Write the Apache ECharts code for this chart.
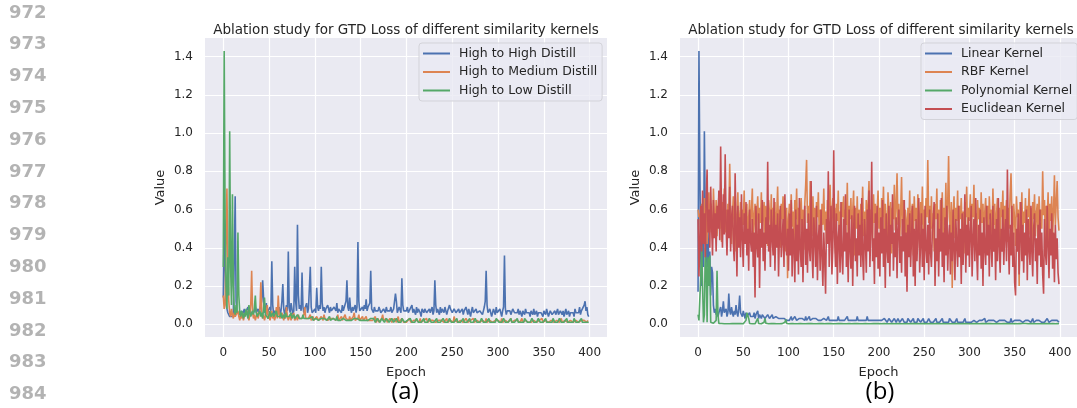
<!DOCTYPE html>
<html><head><meta charset="utf-8">
<script src="https://cdn.jsdelivr.net/npm/echarts@6/dist/echarts.min.js"></script>
<style>html,body{margin:0;padding:0;background:#fff}#c{width:1077px;height:408px}</style>
</head><body><div id="c"></div>
<script>
const TITLE = 'Ablation study for GTD Loss of different similarity kernels';
const xTicks = [0,50,100,150,200,250,300,350,400];
const yTicks = [0,0.2,0.4,0.6,0.8,1.0,1.2,1.4];
const lineNumbers = ['972','973','974','975','976','977','978','979','980','981','982','983','984'];
const captions = ['(a)','(b)'];
const leftNames = ['High to High Distill','High to Medium Distill','High to Low Distill'];
const rightNames = ['Linear Kernel','RBF Kernel','Polynomial Kernel','Euclidean Kernel'];

const highHigh = [
.14,.55,.30,.12,.08,.06,.05,.04,.05,.04,.04,.06,.35,.67,.12,.06,.05,.07,.05,.06,
.07,.05,.06,.08,.05,.07,.06,.09,.05,.07,.06,.08,.05,.06,.07,.09,.06,.05,.08,.06,
.07,.05,.12,.23,.14,.06,.08,.11,.05,.07,.06,.09,.07,.33,.10,.05,.07,.06,.08,.05,
.06,.09,.05,.07,.12,.21,.08,.05,.06,.10,.07,.38,.09,.06,.11,.08,.05,.07,.30,.12,
.07,.52,.15,.08,.10,.07,.27,.09,.06,.08,.07,.11,.06,.08,.07,.30,.09,.06,.07,.05,
.08,.06,.19,.09,.07,.10,.08,.30,.11,.07,.09,.06,.08,.07,.10,.08,.06,.09,.07,.08,
.06,.09,.08,.07,.11,.06,.08,.07,.09,.06,.10,.07,.08,.06,.12,.23,.09,.07,.14,.08,
.06,.09,.07,.08,.10,.06,.09,.43,.12,.07,.08,.06,.09,.07,.10,.08,.13,.07,.09,.08,
.11,.28,.08,.07,.06,.09,.07,.08,.06,.07,.09,.08,.06,.07,.05,.08,.07,.06,.09,.07,
.08,.06,.07,.09,.06,.05,.08,.07,.16,.12,.06,.07,.09,.08,.06,.24,.10,.07,.08,.06,
.07,.09,.06,.05,.08,.07,.10,.06,.08,.07,.05,.09,.06,.08,.07,.06,.04,.08,.07,.06,
.08,.09,.06,.07,.05,.08,.06,.07,.09,.05,.07,.23,.10,.06,.08,.07,.05,.09,.06,.08,
.07,.06,.09,.08,.05,.07,.06,.10,.08,.07,.06,.05,.08,.09,.06,.07,.05,.08,.06,.07,
.06,.08,.05,.07,.06,.09,.07,.05,.08,.06,.04,.07,.09,.06,.07,.05,.08,.06,.07,.05,
.07,.06,.08,.05,.07,.09,.12,.28,.10,.06,.05,.08,.07,.04,.06,.08,.07,.05,.09,.06,
.07,.05,.08,.06,.04,.07,.09,.36,.08,.05,.07,.06,.08,.07,.05,.06,.08,.07,.06,.05,
.07,.06,.08,.05,.07,.06,.04,.07,.06,.05,.08,.06,.07,.05,.06,.04,.07,.06,.05,.08,
.05,.06,.07,.04,.06,.05,.07,.06,.05,.04,.07,.06,.05,.08,.06,.04,.05,.07,.06,.05,
.06,.04,.07,.05,.06,.08,.05,.04,.07,.06,.05,.07,.04,.06,.08,.05,.06,.07,.04,.06,
.05,.07,.06,.04,.08,.06,.05,.07,.06,.09,.05,.07,.06,.08,.10,.12,.07,.09,.05,.04
];
const highMedium = [
.15,.08,.10,.45,.71,.30,.12,.06,.04,.08,.05,.03,.06,.04,.05,.03,.07,.04,.02,.05,
.03,.06,.02,.04,.05,.03,.07,.04,.02,.05,.10,.28,.06,.03,.05,.02,.04,.06,.03,.05,
.08,.22,.07,.03,.05,.02,.04,.06,.10,.03,.05,.02,.04,.07,.03,.05,.02,.04,.09,.03,
.15,.05,.03,.02,.06,.04,.02,.05,.03,.09,.04,.02,.03,.05,.02,.04,.03,.06,.02,.03,
.04,.02,.05,.03,.02,.04,.03,.02,.05,.09,.03,.02,.04,.03,.02,.05,.02,.03,.04,.02,
.03,.02,.04,.05,.02,.03,.02,.04,.03,.02,.05,.03,.02,.04,.02,.03,.02,.03,.04,.02,
.03,.02,.04,.02,.03,.05,.02,.03,.02,.04,.02,.03,.02,.05,.03,.02,.03,.02,.04,.02,
.03,.02,.04,.06,.02,.03,.02,.03,.05,.02,.03,.02,.04,.02,.03,.02,.04,.02,.03,.02,
.02,.01,.03,.02,.01,.02,.04,.01,.02,.03,.01,.02,.01,.03,.05,.02,.01,.02,.03,.01,
.02,.01,.03,.02,.01,.02,.01,.03,.02,.01,.02,.04,.01,.02,.01,.03,.02,.01,.02,.01,
.01,.02,.01,.03,.02,.01,.02,.01,.02,.03,.01,.02,.01,.02,.01,.03,.01,.02,.01,.02,
.01,.02,.03,.01,.02,.01,.02,.01,.03,.02,.01,.02,.01,.02,.01,.02,.03,.01,.02,.01,
.02,.01,.02,.01,.03,.01,.02,.01,.02,.01,.02,.01,.04,.02,.01,.02,.01,.02,.01,.02,
.01,.02,.01,.02,.01,.03,.02,.01,.02,.01,.02,.01,.02,.03,.01,.02,.01,.02,.01,.02,
.01,.02,.01,.02,.01,.02,.01,.03,.01,.02,.01,.02,.01,.02,.01,.02,.01,.02,.01,.02,
.02,.01,.02,.01,.03,.01,.02,.01,.02,.01,.02,.01,.02,.01,.03,.01,.02,.01,.02,.01,
.01,.02,.01,.02,.01,.02,.03,.01,.02,.01,.02,.01,.02,.01,.02,.01,.01,.02,.01,.02,
.01,.02,.01,.02,.01,.02,.01,.02,.03,.01,.02,.01,.02,.01,.02,.01,.02,.01,.02,.01,
.02,.01,.02,.01,.02,.01,.02,.01,.02,.03,.01,.02,.01,.02,.01,.02,.01,.02,.01,.02,
.01,.02,.01,.02,.01,.02,.01,.02,.01,.02,.01,.02,.03,.01,.02,.01,.02,.01,.02,.01
];
const highLow = [
.30,1.43,.55,.20,.08,.35,.15,1.01,.30,.10,.68,.20,.08,.05,.10,.06,.48,.15,.06,.04,
.07,.05,.03,.06,.04,.08,.05,.03,.10,.06,.04,.03,.07,.05,.09,.15,.06,.04,.03,.05,
.07,.04,.06,.03,.08,.14,.05,.04,.06,.03,.05,.07,.04,.03,.06,.04,.05,.03,.07,.04,
.03,.05,.04,.06,.03,.04,.05,.03,.06,.04,.03,.05,.04,.03,.06,.03,.04,.05,.03,.04,
.03,.05,.04,.03,.02,.04,.03,.05,.03,.02,.04,.03,.02,.04,.03,.02,.03,.04,.02,.03,
.02,.03,.02,.04,.02,.03,.02,.03,.02,.04,.03,.02,.03,.02,.03,.02,.04,.02,.03,.02,
.03,.02,.03,.02,.04,.02,.03,.02,.02,.03,.02,.03,.02,.03,.02,.02,.03,.02,.03,.02,
.02,.03,.02,.03,.02,.02,.03,.02,.03,.02,.02,.03,.02,.02,.03,.02,.02,.03,.02,.02,
.02,.03,.02,.02,.03,.02,.01,.02,.03,.02,.02,.01,.02,.03,.02,.02,.01,.02,.03,.02,
.02,.01,.02,.02,.03,.02,.01,.02,.02,.03,.02,.01,.02,.02,.01,.03,.02,.02,.01,.02,
.02,.02,.01,.02,.03,.02,.01,.02,.02,.01,.02,.03,.02,.01,.02,.02,.01,.02,.02,.03,
.01,.02,.02,.01,.02,.03,.02,.01,.02,.02,.01,.02,.02,.03,.01,.02,.02,.01,.02,.02,
.03,.02,.01,.02,.02,.01,.02,.03,.02,.01,.02,.02,.01,.02,.02,.03,.01,.02,.02,.01,
.02,.02,.03,.01,.02,.02,.01,.02,.02,.03,.01,.02,.02,.01,.02,.03,.02,.01,.02,.02,
.01,.02,.03,.02,.01,.02,.02,.01,.02,.02,.03,.01,.02,.02,.01,.02,.02,.01,.03,.02,
.02,.01,.02,.02,.01,.02,.03,.02,.01,.02,.02,.01,.02,.02,.03,.01,.02,.02,.01,.02,
.02,.03,.01,.02,.02,.01,.02,.02,.01,.03,.02,.02,.01,.02,.02,.01,.02,.03,.02,.01,
.02,.02,.01,.02,.03,.02,.01,.02,.02,.01,.02,.02,.03,.01,.02,.02,.01,.02,.02,.01,
.03,.02,.01,.02,.02,.01,.02,.03,.02,.01,.02,.02,.01,.02,.02,.03,.01,.02,.02,.01,
.02,.02,.01,.03,.02,.01,.02,.02,.01,.02,.02,.03,.01,.02,.02,.01,.02,.02,.01,.01
];
const linearK = [
.17,1.43,.80,.35,.20,.45,.30,1.01,.55,.40,.30,.50,.25,.38,.15,.30,.27,.10,.06,.08,
.05,.07,.04,.06,.05,.09,.04,.07,.12,.06,.05,.08,.04,.06,.16,.07,.05,.09,.06,.04,
.07,.05,.10,.06,.04,.08,.15,.06,.05,.04,.07,.05,.03,.06,.04,.05,.03,.06,.04,.05,
.03,.04,.06,.03,.05,.04,.07,.03,.05,.04,.03,.05,.04,.06,.03,.04,.03,.05,.04,.03,
.04,.03,.05,.03,.04,.02,.04,.03,.05,.03,.02,.04,.03,.04,.02,.03,.04,.03,.02,.03,
.03,.02,.03,.04,.02,.03,.02,.04,.03,.02,.03,.02,.03,.04,.02,.03,.02,.03,.02,.04,
.02,.03,.02,.04,.02,.03,.02,.03,.02,.02,.03,.02,.04,.02,.03,.02,.02,.03,.02,.03,
.02,.03,.02,.02,.04,.02,.03,.02,.02,.03,.02,.02,.03,.02,.02,.04,.02,.03,.02,.02,
.03,.02,.02,.03,.02,.04,.02,.02,.03,.02,.02,.03,.02,.02,.03,.02,.04,.02,.02,.03,
.02,.02,.03,.02,.02,.03,.02,.04,.02,.02,.03,.02,.02,.03,.02,.02,.03,.02,.02,.03,
.02,.02,.03,.02,.01,.02,.03,.02,.02,.01,.02,.03,.02,.02,.01,.02,.02,.03,.02,.01,
.02,.03,.02,.01,.02,.02,.03,.02,.01,.02,.02,.01,.03,.02,.02,.01,.02,.02,.03,.01,
.02,.02,.01,.03,.02,.02,.01,.02,.02,.03,.01,.02,.02,.01,.02,.03,.02,.01,.02,.02,
.01,.02,.02,.03,.01,.02,.02,.01,.02,.02,.03,.01,.02,.02,.01,.02,.02,.01,.03,.02,
.02,.01,.02,.02,.01,.02,.03,.01,.02,.02,.01,.02,.02,.01,.02,.03,.01,.02,.02,.01,
.02,.02,.01,.02,.01,.02,.02,.03,.01,.02,.01,.02,.02,.01,.02,.01,.02,.03,.01,.02,
.01,.02,.02,.01,.02,.01,.02,.02,.01,.03,.01,.02,.01,.02,.02,.01,.02,.01,.02,.02,
.01,.02,.01,.02,.02,.01,.03,.01,.02,.01,.02,.02,.01,.02,.01,.02,.02,.01,.03,.01,
.02,.01,.02,.01,.02,.02,.01,.02,.01,.02,.03,.01,.02,.01,.02,.02,.01,.02,.01,.02,
.01,.02,.02,.01,.02,.01,.03,.02,.01,.02,.01,.02,.02,.01,.02,.01,.02,.02,.01,.01
];
const rbfK = [
.60,.56,.58,.47,.63,.55,.49,.66,.52,.61,.42,.58,.69,.48,.63,.54,.45,.71,.57,.50,
.65,.46,.58,.67,.50,.61,.43,.64,.55,.71,.48,.60,.45,.63,.56,.84,.60,.42,.57,.67,
.50,.62,.38,.58,.69,.47,.55,.64,.44,.60,.52,.70,.43,.58,.63,.37,.56,.65,.48,.59,
.71,.45,.56,.63,.40,.58,.67,.48,.61,.53,.69,.44,.57,.64,.47,.62,.55,.41,.65,.58,
.50,.68,.45,.61,.54,.64,.42,.58,.72,.49,.60,.40,.63,.55,.67,.46,.57,.38,.61,.24,
.55,.63,.44,.68,.51,.59,.40,.65,.55,.71,.47,.61,.43,.58,.66,.49,.60,.39,.63,.73,
.86,.53,.62,.45,.75,.57,.46,.67,.51,.61,.41,.64,.56,.69,.47,.60,.38,.63,.52,.71,
.49,.59,.42,.65,.55,.62,.73,.45,.58,.66,.50,.61,.37,.63,.54,.70,.46,.59,.40,.64,
.56,.67,.43,.60,.52,.74,.41,.62,.55,.66,.45,.59,.70,.36,.61,.50,.67,.47,.60,.42,
.63,.54,.72,.46,.59,.39,.65,.55,.62,.75,.48,.60,.61,.44,.68,.53,.63,.40,.58,.70,
.50,.61,.38,.66,.56,.72,.45,.63,.54,.41,.69,.58,.48,.64,.37,.61,.55,.73,.49,.62,
.79,.52,.63,.44,.59,.77,.47,.65,.40,.60,.55,.26,.61,.51,.70,.43,.58,.63,.36,.67,
.54,.61,.45,.68,.57,.39,.64,.52,.72,.48,.60,.42,.66,.56,.86,.53,.62,.44,.67,.50,
.58,.38,.63,.55,.71,.46,.60,.40,.65,.54,.69,.45,.61,.52,.74,.42,.63,.88,.56,.47,
.64,.19,.58,.67,.45,.61,.54,.70,.41,.62,.55,.66,.48,.59,.37,.64,.56,.72,.46,.61,
.54,.68,.43,.63,.56,.73,.47,.58,.39,.65,.55,.61,.45,.69,.53,.63,.40,.59,.66,.49,
.62,.42,.67,.55,.60,.46,.71,.52,.63,.38,.58,.66,.47,.61,.36,.64,.56,.70,.44,.62,
.55,.65,.43,.61,.50,.68,.79,.57,.46,.63,.54,.41,.67,.56,.60,.20,.64,.52,.69,.45,
.59,.53,.66,.42,.62,.56,.71,.47,.61,.38,.64,.55,.68,.46,.58,.63,.41,.67,.54,.60,
.50,.80,.57,.65,.44,.62,.55,.69,.40,.63,.54,.67,.46,.59,.78,.52,.63,.75,.56,.49
];
const polyK = [
.05,.02,.01,.25,.41,.20,.01,.05,.40,.30,.01,.35,.20,.36,.01,.005,.02,.005,.01,.01,
.02,.28,.05,.004,.003,.002,.004,.002,.003,.002,.004,.003,.002,.003,.005,.002,.003,.002,.004,.003,
.002,.003,.004,.002,.003,.002,.003,.004,.002,.003,.002,.004,.003,.02,.06,.05,.03,.004,.002,.003,
.002,.004,.003,.002,.003,.01,.03,.004,.002,.003,.002,.003,.004,.01,.03,.005,.002,.003,.002,.003,
.002,.003,.002,.004,.003,.002,.003,.002,.003,.004,.002,.003,.002,.003,.002,.003,.01,.025,.004,.002,
.003,.002,.004,.002,.003,.002,.003,.002,.004,.003,.002,.003,.002,.004,.002,.003,.002,.003,.01,.002,
.003,.002,.003,.004,.002,.003,.002,.003,.002,.004,.003,.002,.003,.002,.003,.002,.004,.003,.002,.003,
.002,.003,.002,.003,.004,.002,.003,.002,.003,.002,.003,.004,.002,.003,.002,.003,.002,.003,.004,.002,
.003,.002,.004,.003,.002,.003,.002,.003,.002,.004,.002,.003,.002,.003,.004,.002,.003,.002,.003,.002,
.002,.003,.002,.004,.002,.003,.002,.003,.002,.003,.004,.002,.003,.002,.003,.002,.004,.003,.002,.003,
.003,.002,.003,.002,.004,.002,.003,.002,.003,.002,.003,.004,.002,.003,.002,.003,.002,.003,.002,.004,
.002,.003,.002,.003,.002,.004,.003,.002,.003,.002,.003,.002,.004,.002,.003,.002,.003,.004,.002,.003,
.003,.002,.004,.002,.003,.002,.003,.002,.003,.004,.002,.003,.002,.003,.002,.004,.002,.003,.002,.003,
.002,.003,.002,.004,.003,.002,.003,.002,.003,.002,.004,.002,.003,.002,.003,.002,.003,.004,.002,.003,
.003,.002,.003,.002,.003,.004,.002,.003,.002,.003,.002,.003,.002,.004,.003,.002,.003,.002,.003,.002,
.002,.004,.002,.003,.002,.003,.002,.003,.004,.002,.003,.002,.003,.002,.003,.002,.004,.003,.002,.003,
.003,.002,.003,.004,.002,.003,.002,.003,.002,.003,.004,.002,.003,.002,.003,.002,.003,.002,.004,.002,
.002,.003,.002,.003,.002,.004,.003,.002,.003,.002,.003,.002,.004,.002,.003,.002,.003,.002,.003,.004,
.003,.002,.004,.002,.003,.002,.003,.002,.003,.004,.002,.003,.002,.003,.002,.003,.004,.002,.003,.002,
.002,.003,.002,.003,.004,.002,.003,.002,.003,.002,.003,.002,.004,.002,.003,.002,.003,.002,.003,.002
];
const euclidK = [
.55,.25,.45,.62,.38,.70,.42,.58,.35,.66,.81,.48,.60,.40,.72,.52,.36,.65,.45,.58,
.38,.62,.50,.70,.44,.93,.55,.40,.68,.47,.89,.52,.36,.60,.45,.72,.38,.55,.62,.42,
.33,.79,.50,.25,.62,.40,.56,.35,.68,.45,.30,.58,.42,.64,.36,.50,.28,.60,.44,.38,
.55,.30,.48,.14,.62,.42,.35,.58,.19,.50,.40,.65,.33,.48,.28,.56,.42,.85,.38,.52,
.30,.60,.45,.36,.66,.28,.52,.40,.58,.25,.48,.62,.35,.44,.55,.30,.68,.42,.36,.50,
.28,.58,.36,.65,.25,.50,.42,.22,.60,.33,.52,.26,.66,.40,.30,.55,.22,.48,.62,.31,
.50,.27,.58,.40,.33,.75,.38,.24,.56,.45,.30,.62,.23,.45,.52,.28,.60,.36,.20,.48,
.34,.16,.55,.42,.80,.30,.50,.62,.26,.40,.91,.45,.30,.58,.21,.45,.52,.27,.64,.36,
.26,.55,.38,.68,.30,.48,.22,.60,.40,.29,.57,.20,.50,.62,.33,.45,.25,.58,.36,.52,
.30,.66,.36,.23,.55,.44,.27,.60,.38,.70,.30,.50,.85,.33,.45,.21,.58,.35,.62,.29,
.48,.25,.56,.37,.65,.30,.50,.19,.58,.40,.32,.62,.25,.52,.42,.68,.28,.48,.35,.56,
.24,.50,.60,.32,.46,.27,.55,.38,.65,.25,.48,.17,.52,.35,.58,.30,.45,.62,.25,.50,
.20,.55,.33,.48,.66,.27,.42,.58,.30,.50,.23,.62,.40,.32,.52,.26,.60,.38,.30,.48,
.55,.64,.20,.45,.33,.58,.25,.50,.38,.66,.30,.48,.22,.56,.36,.62,.28,.45,.52,.26,
.48,.33,.60,.38,.23,.55,.42,.30,.62,.35,.50,.21,.58,.31,.46,.68,.27,.52,.36,.56,
.30,.48,.62,.25,.45,.55,.33,.66,.38,.23,.52,.36,.60,.29,.48,.20,.56,.40,.31,.62,
.36,.52,.25,.58,.42,.30,.62,.38,.50,.23,.55,.33,.66,.41,.27,.50,.38,.60,.31,.48,
.55,.33,.81,.45,.26,.52,.36,.62,.30,.48,.22,.15,.50,.38,.58,.26,.45,.64,.33,.52,
.27,.48,.36,.60,.23,.55,.40,.31,.62,.38,.25,.50,.58,.33,.45,.21,.52,.36,.60,.30,
.48,.26,.16,.55,.38,.31,.62,.42,.24,.50,.36,.58,.29,.48,.22,.52,.34,.45,.27,.21
];

const FONT = '"DejaVu Sans", sans-serif';
const TXT = '#262626';
const COLORS = ['#4c72b0','#dd8452','#55a868','#c44e52'];
const pts = arr => arr.map((v, i) => [i, v]);

function xAxis(gi) {
  return {
    type: 'value', gridIndex: gi, min: -19.95, max: 418.95,
    axisLine: { show: false },
    axisTick: { show: false, customValues: xTicks },
    axisLabel: { customValues: xTicks, color: TXT, fontFamily: FONT, fontSize: 12, margin: 10 },
    splitLine: { show: true, lineStyle: { color: '#ffffff', width: 1.2 } },
    name: 'Epoch', nameLocation: 'middle', nameGap: 29,
    nameTextStyle: { color: TXT, fontFamily: FONT, fontSize: 13 }
  };
}
function yAxis(gi) {
  return {
    type: 'value', gridIndex: gi, min: -0.067, max: 1.498,
    axisLine: { show: false },
    axisTick: { show: false, customValues: yTicks },
    axisLabel: { customValues: yTicks, color: TXT, fontFamily: FONT, fontSize: 12, margin: 12,
      formatter: v => Number(v).toFixed(1) },
    splitLine: { show: true, lineStyle: { color: '#ffffff', width: 1.2 } },
    name: 'Value', nameLocation: 'middle', nameGap: 38, nameRotate: 90,
    nameTextStyle: { color: TXT, fontFamily: FONT, fontSize: 13 }
  };
}
function line(name, arr, color, gi) {
  return {
    name, type: 'line', xAxisIndex: gi, yAxisIndex: gi, data: pts(arr),
    showSymbol: false, symbol: 'none', lineStyle: { color, width: 1.6 }, itemStyle: { color },
    emphasis: { disabled: true }
  };
}
function legend(names, left) {
  return {
    data: names, orient: 'vertical', left, top: 43, itemWidth: 27, itemHeight: 2, icon: 'rect',
    itemGap: 3.5, padding: [3, 5, 3, 4],
    backgroundColor: 'rgba(234,234,242,0.8)', borderColor: '#d3d3d9', borderWidth: 1, borderRadius: 3,
    textStyle: { color: TXT, fontFamily: FONT, fontSize: 12.5, lineHeight: 15, padding: [0, 0, 0, 4] }
  };
}

const graphics = [];
lineNumbers.forEach((n, i) => graphics.push({
  type: 'text', left: 9, top: 13.5 + i * 31.8 - 9.5,
  style: { text: n, font: 'bold 18px "DejaVu Sans"', fill: '#b3b3b3' }
}));
[405, 880].forEach((cx, i) => graphics.push({
  type: 'text', x: cx, y: 392,
  style: { text: captions[i], font: '24px "Open Sans"', fill: '#000', align: 'center', verticalAlign: 'middle' }
}));

const chart = echarts.init(document.getElementById('c'), null, { renderer: 'canvas' });
chart.setOption({
  animation: false,
  backgroundColor: '#ffffff',
  title: [401, 876].map(cx => ({
    text: TITLE, left: cx, top: 18, textAlign: 'center',
    textStyle: { color: TXT, fontFamily: FONT, fontSize: 13.5, fontWeight: 'normal' }
  })),
  grid: [
    { left: 205, top: 38, width: 402, height: 299, show: true, backgroundColor: '#eaeaf2', borderWidth: 0 },
    { left: 680, top: 38, width: 402, height: 299, show: true, backgroundColor: '#eaeaf2', borderWidth: 0 }
  ],
  xAxis: [xAxis(0), xAxis(1)],
  yAxis: [yAxis(0), yAxis(1)],
  legend: [legend(leftNames, 419), legend(rightNames, 921)],
  series: [
    line(leftNames[0], highHigh, COLORS[0], 0),
    line(leftNames[1], highMedium, COLORS[1], 0),
    line(leftNames[2], highLow, COLORS[2], 0),
    line(rightNames[0], linearK, COLORS[0], 1),
    line(rightNames[1], rbfK, COLORS[1], 1),
    line(rightNames[2], polyK, COLORS[2], 1),
    line(rightNames[3], euclidK, COLORS[3], 1)
  ],
  graphic: graphics
});
</script>
</body></html>
